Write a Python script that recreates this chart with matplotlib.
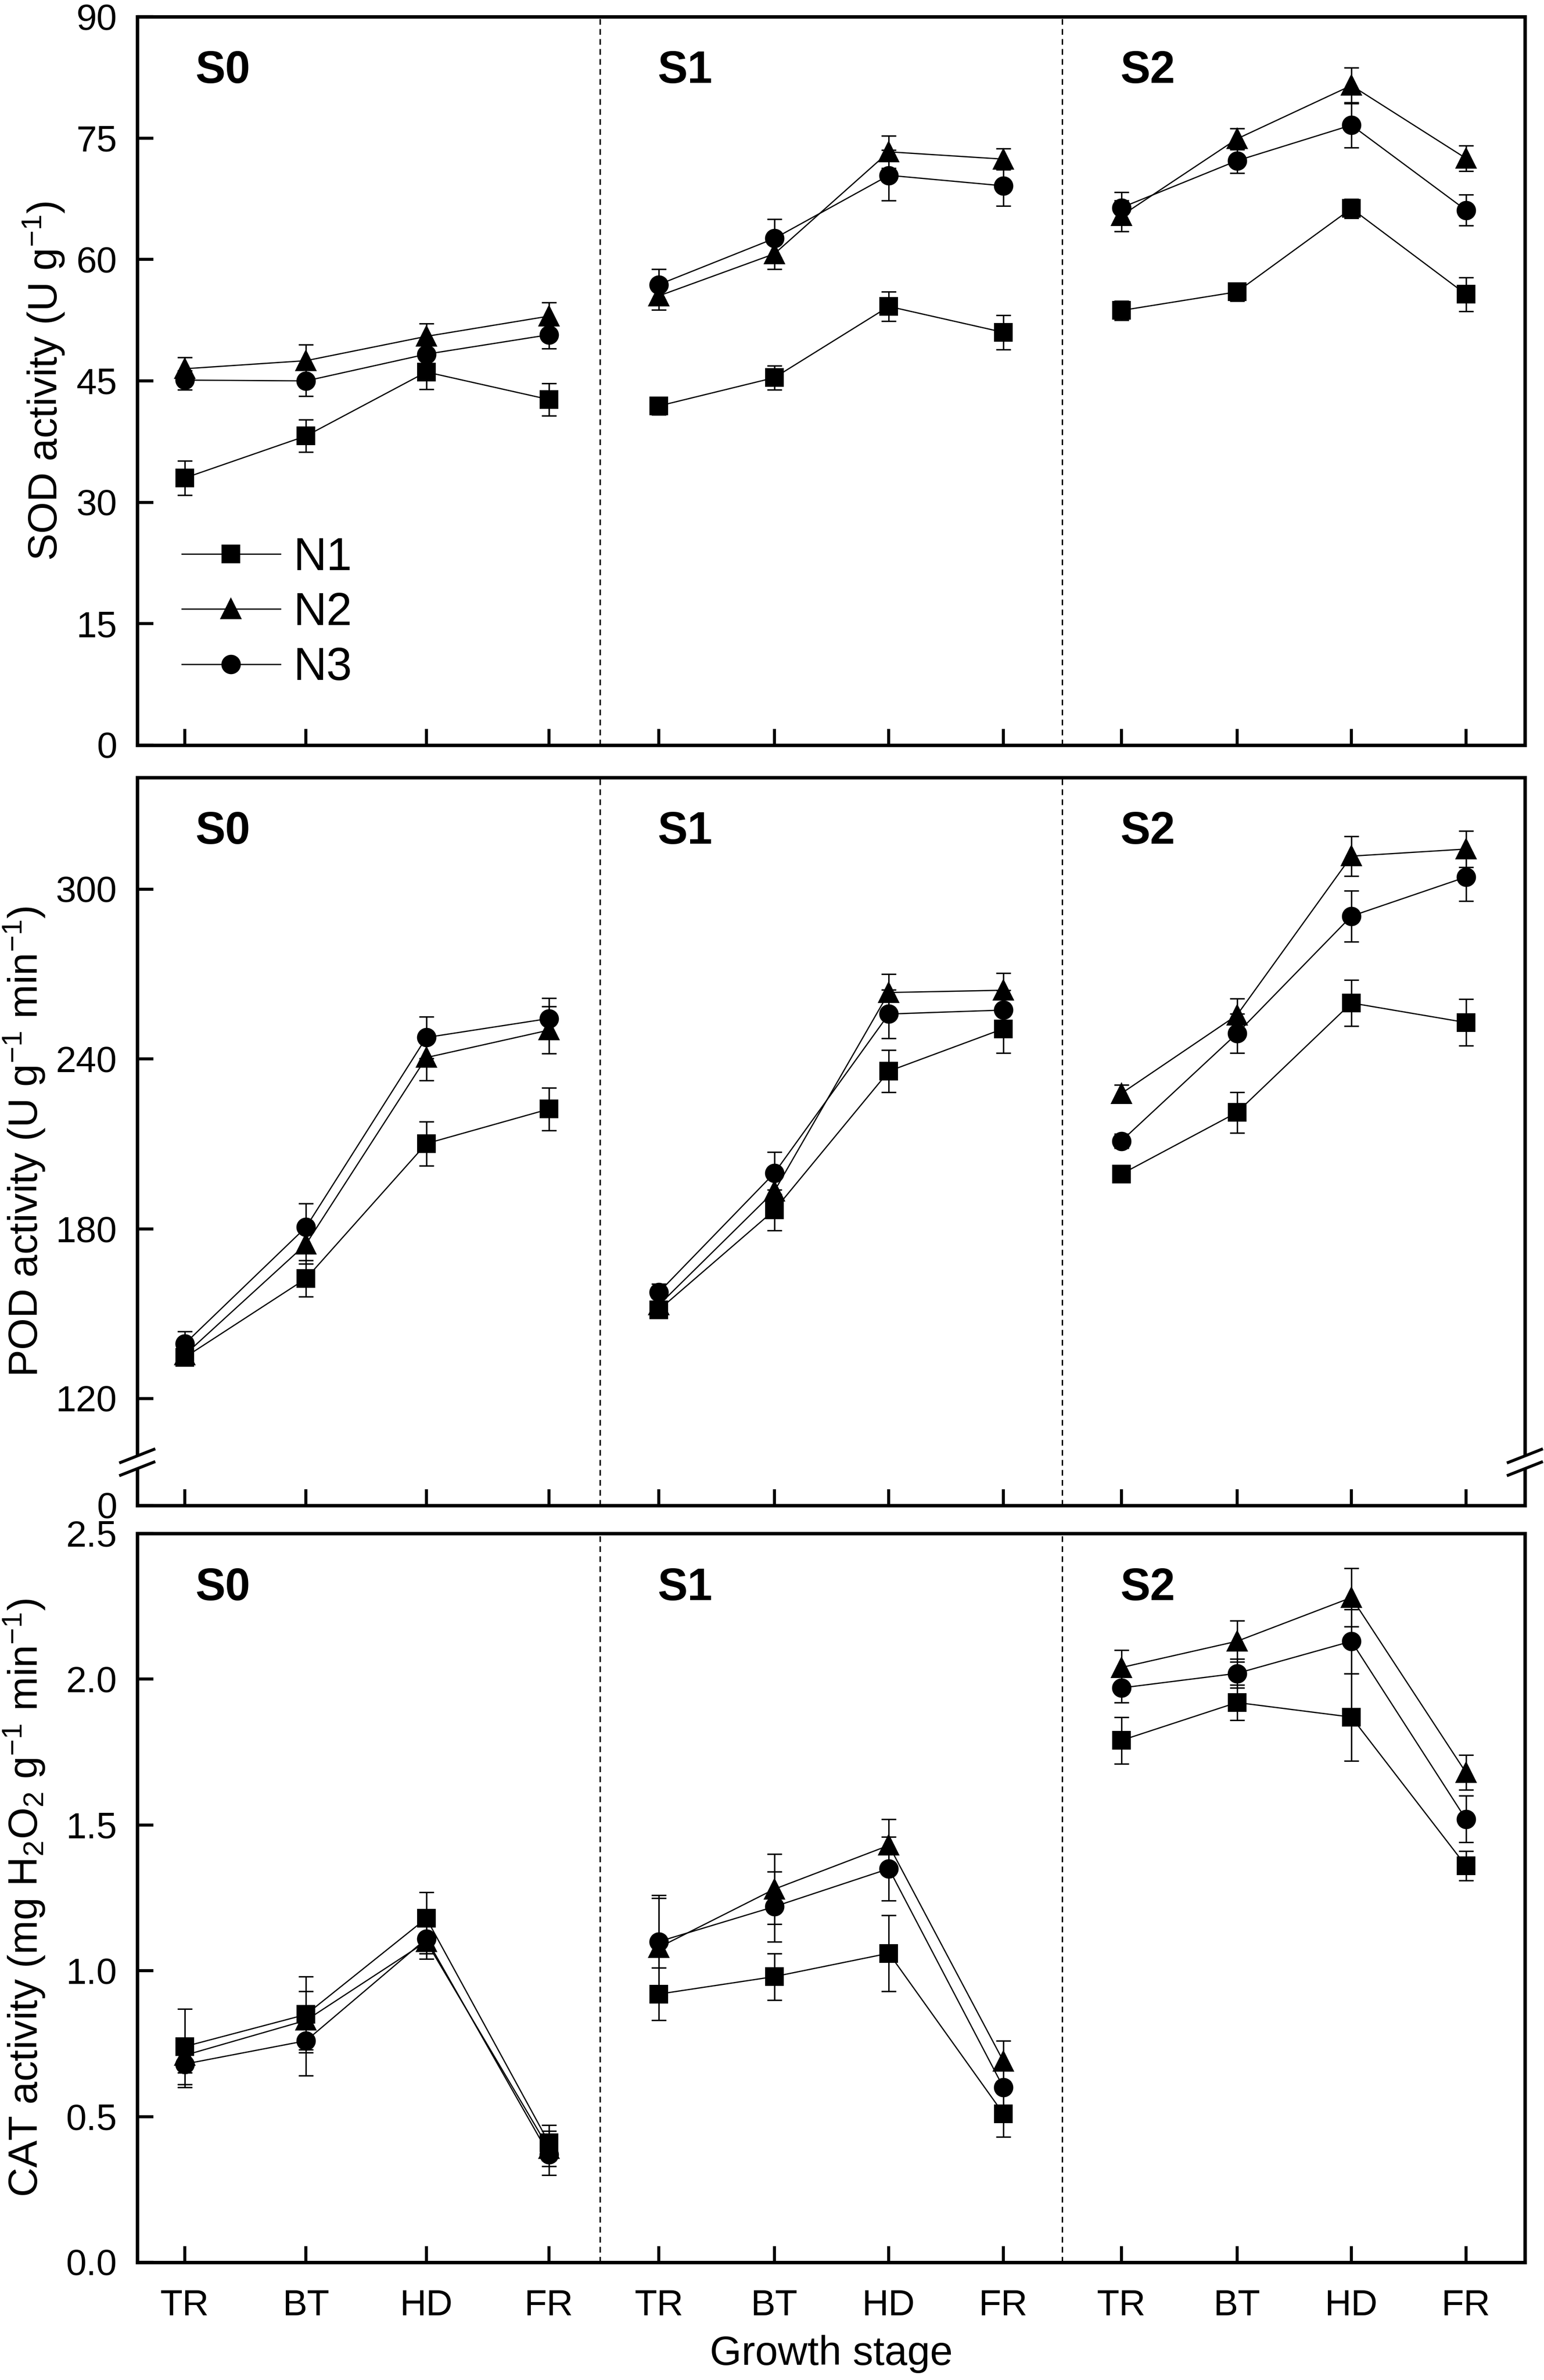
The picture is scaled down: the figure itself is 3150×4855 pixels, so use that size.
import numpy as np
import matplotlib
matplotlib.use("Agg")
import matplotlib.pyplot as plt
from matplotlib.patches import Polygon
from matplotlib.lines import Line2D

plt.rcParams['font.family'] = ['Liberation Sans', 'DejaVu Sans']
plt.rcParams['mathtext.fontset'] = 'custom'
plt.rcParams['mathtext.rm'] = 'Liberation Sans'
plt.rcParams['mathtext.it'] = 'Liberation Sans:italic'
plt.rcParams['mathtext.default'] = 'regular'

# --- data ---
stages = ['TR', 'BT', 'HD', 'FR']
salts = ['S0', 'S1', 'S2']
treatments = ['N1', 'N2', 'N3']

# SOD (U g-1), 12 values = S0 TR..FR, S1 TR..FR, S2 TR..FR
sod_n1 = [33.0, 38.2, 46.1, 42.7, 41.9, 45.4, 54.2, 51.0, 53.7, 56.0, 66.3, 55.7]
sod_n1_err = [2.1, 2.0, 2.1, 2.0, 1.1, 1.5, 1.8, 2.1, 1.2, 1.1, 1.2, 2.1]
sod_n2 = [46.5, 47.5, 50.5, 53.0, 55.5, 60.7, 73.3, 72.4, 65.4, 74.9, 81.5, 72.5]
sod_n2_err = [1.4, 2.0, 1.6, 1.7, 1.7, 1.9, 2.0, 1.3, 1.9, 1.3, 2.2, 1.6]
sod_n3 = [45.1, 45.0, 48.3, 50.7, 56.9, 62.6, 70.4, 69.1, 66.4, 72.2, 76.6, 66.1]
sod_n3_err = [1.2, 1.9, 1.5, 1.7, 1.9, 2.4, 3.1, 2.5, 1.9, 1.5, 2.8, 1.9]

# POD (U g-1 min-1)
pod_n1 = [134.5, 162.4, 210.1, 222.3, 151.3, 186.6, 235.7, 250.7, 199.3, 221.1, 259.8, 252.9]
pod_n1_err = [2.5, 6.4, 7.8, 7.6, 2.5, 7.2, 7.4, 8.5, 2.0, 7.2, 8.1, 8.2]
pod_n2 = [135.4, 174.6, 240.5, 250.2, 153.0, 193.3, 263.5, 264.3, 227.8, 255.5, 311.7, 314.2]
pod_n2_err = [3.0, 7.0, 8.1, 8.3, 2.5, 7.0, 6.5, 6.0, 3.0, 5.8, 7.0, 6.4]
pod_n3 = [139.3, 180.6, 247.6, 254.3, 157.5, 199.7, 255.9, 257.3, 211.0, 249.0, 290.5, 304.3]
pod_n3_err = [4.4, 8.3, 7.4, 7.2, 3.0, 7.4, 8.5, 7.0, 2.5, 6.9, 9.0, 8.5]

# CAT (mg H2O2 g-1 min-1)
cat_n1 = [0.74, 0.85, 1.18, 0.41, 0.92, 0.98, 1.06, 0.51, 1.79, 1.92, 1.87, 1.36]
cat_n1_err = [0.13, 0.13, 0.09, 0.06, 0.09, 0.08, 0.13, 0.08, 0.08, 0.06, 0.15, 0.05]
cat_n2 = [0.71, 0.83, 1.10, 0.39, 1.08, 1.28, 1.43, 0.69, 2.04, 2.13, 2.28, 1.68]
cat_n2_err = [0.06, 0.10, 0.06, 0.06, 0.17, 0.12, 0.09, 0.07, 0.06, 0.07, 0.10, 0.06]
cat_n3 = [0.68, 0.76, 1.11, 0.37, 1.10, 1.22, 1.35, 0.60, 1.97, 2.02, 2.13, 1.52]
cat_n3_err = [0.08, 0.12, 0.05, 0.07, 0.16, 0.12, 0.11, 0.06, 0.05, 0.05, 0.11, 0.08]

sod_ticks = [0, 15, 30, 45, 60, 75, 90]
pod_ticks = [82.2, 120, 180, 240, 300]
pod_ticklabels = ['0', '120', '180', '240', '300']
cat_ticks = [0.0, 0.5, 1.0, 1.5, 2.0, 2.5]

# layout of the category positions (x units, each salt block is 4 wide)
group_pos = [[0.41, 1.46, 2.50, 3.56],
             [4.51, 5.51, 6.50, 7.49],
             [8.51, 9.51, 10.50, 11.49]]
markers = {'N1': 's', 'N2': '^', 'N3': 'o'}
msizes = {'N1': 8.0, 'N2': 9.2, 'N3': 8.5}

TICK_FS = 18
LABEL_FS = 20
LEG_FS = 22.5
PANEL_FS = 22

fig = plt.figure(figsize=(10.5, 4855 / 300), dpi=300)
W, H = 3150, 4855
left, right = 280 / W, 3111 / W
boxes = [(34, 1520), (1586, 3071), (3128, 4615)]
axes = []
for top, bot in boxes:
    ax = fig.add_axes([left, 1 - bot / H, right - left, (bot - top) / H])
    axes.append(ax)


def draw_panel(ax, series, errs):
    for name, vals, er in zip(treatments, series, errs):
        vals = np.array(vals)
        er = np.array(er)
        for g in range(3):
            sl = slice(g * 4, g * 4 + 4)
            ax.errorbar(group_pos[g], vals[sl], yerr=er[sl], color='black',
                        lw=0.6, elinewidth=0.7, capsize=3.7, capthick=0.7,
                        marker=markers[name], ms=msizes[name], mfc='black',
                        mec='black', zorder=3)
    for xv in (4, 8):
        ax.axvline(xv, color='black', lw=0.7, ls=(0, (4, 3)), zorder=1)
    for g, s in enumerate(salts):
        ax.text(g * 4 + 0.5, 0.925, s, transform=ax.get_xaxis_transform(),
                fontsize=PANEL_FS, fontweight='bold', va='center', ha='left')
    ax.set_xlim(0, 12)
    ax.set_xticks([p for grp in group_pos for p in grp])
    ax.tick_params(direction='in', length=8, width=1.5, labelsize=TICK_FS, pad=10)
    ax.tick_params(axis='x', pad=13)
    for sp in ax.spines.values():
        sp.set_linewidth(1.7)


draw_panel(axes[0], [sod_n1, sod_n2, sod_n3], [sod_n1_err, sod_n2_err, sod_n3_err])
draw_panel(axes[1], [pod_n1, pod_n2, pod_n3], [pod_n1_err, pod_n2_err, pod_n3_err])
draw_panel(axes[2], [cat_n1, cat_n2, cat_n3], [cat_n1_err, cat_n2_err, cat_n3_err])

# SOD
ax = axes[0]
ax.set_ylim(0, 90)
ax.set_yticks(sod_ticks)
ax.set_xticklabels([])
ax.set_ylabel('SOD activity (U g$^{-1}$)', fontsize=LABEL_FS)
ax.yaxis.set_label_coords(-0.051, 0.5)
leg_handles = [Line2D([], [], color='black', lw=0.6, marker=markers[n], ms=msizes[n],
                      mfc='black', mec='black') for n in treatments]
ax.legend(leg_handles, treatments, loc='upper left', bbox_to_anchor=(0.032, 0.287),
          frameon=False, fontsize=LEG_FS, handlelength=2.15, handletextpad=0.28,
          labelspacing=0.25, borderpad=0, borderaxespad=0)

# POD with axis break
ax = axes[1]
ax.set_ylim(82.2, 339.5)
ax.set_yticks(pod_ticks)
ax.set_yticklabels(pod_ticklabels)
ax.set_xticklabels([])
ax.set_ylabel('POD activity (U g$^{-1}$ min$^{-1}$)', fontsize=LABEL_FS)
ax.yaxis.set_label_coords(-0.065, 0.5)
yb = 0.0593
for xc in (0.0, 1.0):
    dx, dy, gap = 0.012, 0.009, 0.00875
    poly = Polygon([[xc - dx, yb - dy - gap], [xc + dx, yb + dy - gap],
                    [xc + dx, yb + dy + gap], [xc - dx, yb - dy + gap]],
                   closed=True, transform=ax.transAxes, facecolor='white',
                   edgecolor='none', clip_on=False, zorder=5)
    ax.add_patch(poly)
    for off in (-gap, gap):
        ax.plot([xc - dx, xc + dx], [yb - dy + off, yb + dy + off], color='black',
                lw=1.45, transform=ax.transAxes, clip_on=False, zorder=6)

# CAT
ax = axes[2]
ax.set_ylim(0, 2.5)
ax.set_yticks(cat_ticks)
ax.set_yticklabels([f'{t:.1f}' for t in cat_ticks])
ax.set_xticklabels(stages * 3)
ax.set_ylabel('CAT activity (mg H$_2$O$_2$ g$^{-1}$ min$^{-1}$)', fontsize=LABEL_FS)
ax.yaxis.set_label_coords(-0.065, 0.5)
ax.set_xlabel('Growth stage', fontsize=LABEL_FS, labelpad=6)

fig.savefig('out.png', dpi=300, facecolor='white')
